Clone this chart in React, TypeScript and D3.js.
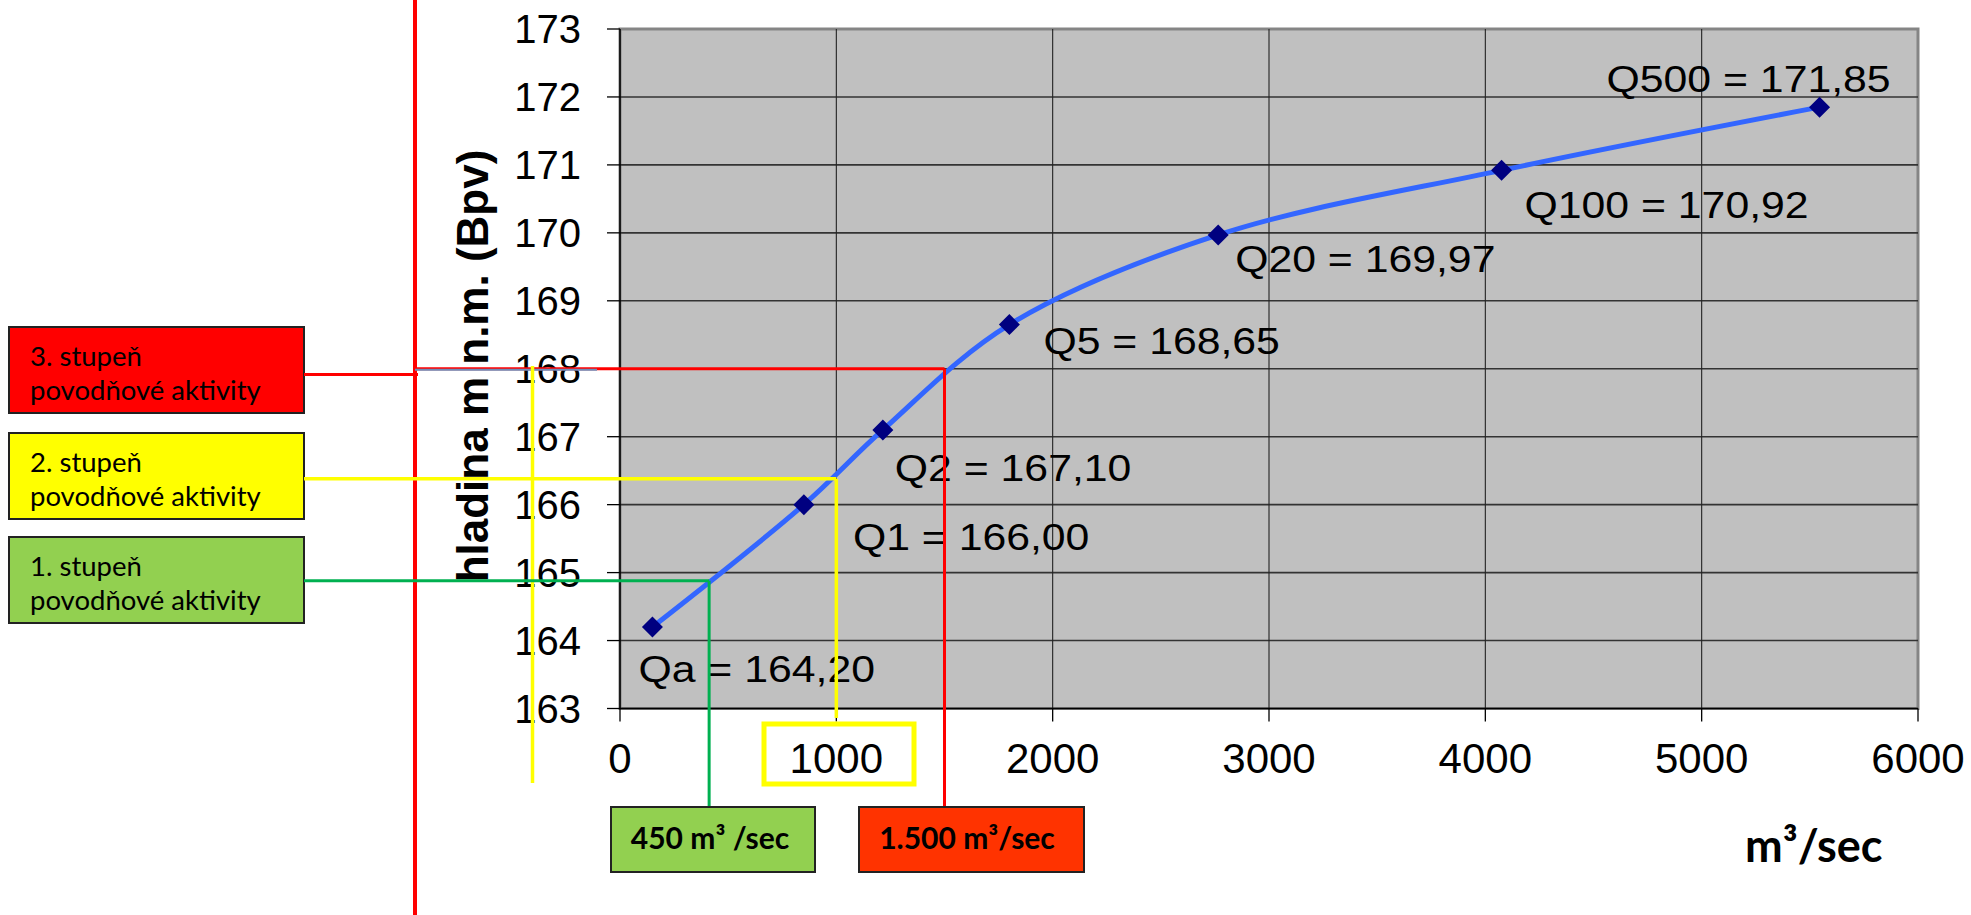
import React from "react";
import * as d3 from "d3";

// ---- data ----
const pointNames = ["Qa", "Q1", "Q2", "Q5", "Q20", "Q100", "Q500"];
const flows = [150, 850, 1215, 1800, 2765, 4075, 5545];
const levels = [164.2, 166.0, 167.1, 168.65, 169.97, 170.92, 171.85];
const xTicks = [0, 1000, 2000, 3000, 4000, 5000, 6000];
const yTicks = [163, 164, 165, 166, 167, 168, 169, 170, 171, 172, 173];

const stageNames = ["3. stupeň", "2. stupeň", "1. stupeň"];
const stageSub = "povodňové aktivity";
const stageLevels = [168.0, 166.38, 164.88];
const stageFlows = [1500, 1000, 412];
const flowBoxTexts = ["1.500 m³/sec", "450 m³ /sec"];

// ---- layout / style ----
const W = 1971;
const H = 915;
const plot = { left: 620, right: 1918, top: 29, bottom: 708.5 };
const labelOffsets: [number, number][] = [
  [-14, 55],
  [49, 45],
  [12, 51],
  [34, 29],
  [17, 37],
  [23, 48],
  [-213, -15],
];

const fmt = (v: number) => v.toFixed(2).replace(".", ",");

export default function App() {
  const x = d3.scaleLinear().domain([0, 6000]).range([plot.left, plot.right]);
  const y = d3.scaleLinear().domain([163, 173]).range([plot.bottom, plot.top]);

  const pts: [number, number][] = flows.map((f, i) => [x(f), y(levels[i])]);
  const line = d3.line().curve(d3.curveCatmullRom.alpha(0.5))(pts) || "";

  const arial = "'Liberation Sans', Arial, sans-serif";
  const cal = "Lato, 'Open Sans', sans-serif";

  const boxX = 9;
  const boxW = 295;
  const boxTops = [327, 433, 537];
  const boxH = 86;
  const boxFills = ["#FF0000", "#FFFF00", "#92D050"];
  const lineCols = ["#FF0000", "#FFFF00", "#00B050"];

  const redVX = 415;
  const mk = 10.5;

  return (
    <svg
      width={W}
      height={H}
      style={{ position: "fixed", left: 0, top: 0, display: "block", background: "#fff" }}
    >
      {/* plot area */}
      <rect
        x={plot.left}
        y={plot.top}
        width={plot.right - plot.left}
        height={plot.bottom - plot.top}
        fill="#C0C0C0"
        stroke="#858585"
        strokeWidth={3}
      />
      {/* grid */}
      {yTicks.slice(1, -1).map((t) => (
        <line key={"gy" + t} x1={plot.left} x2={plot.right} y1={y(t)} y2={y(t)} stroke="#333" strokeWidth={1.6} />
      ))}
      {xTicks.slice(1, -1).map((t) => (
        <line key={"gx" + t} x1={x(t)} x2={x(t)} y1={plot.top} y2={plot.bottom} stroke="#222" strokeWidth={1.1} />
      ))}
      {/* axes */}
      <line x1={plot.left} x2={plot.left} y1={plot.top} y2={plot.bottom} stroke="#000" strokeWidth={1.6} />
      <line x1={plot.left} x2={plot.right} y1={plot.bottom} y2={plot.bottom} stroke="#000" strokeWidth={1.6} />
      {yTicks.map((t) => (
        <g key={"ty" + t}>
          <line x1={plot.left - 13} x2={plot.left} y1={y(t)} y2={y(t)} stroke="#000" strokeWidth={1.3} />
          <text x={581} y={y(t) + 14} textAnchor="end" fontFamily={arial} fontSize={40} fill="#000">
            {t}
          </text>
        </g>
      ))}
      {xTicks.map((t) => (
        <g key={"tx" + t}>
          <line x1={x(t)} x2={x(t)} y1={plot.bottom} y2={plot.bottom + 13} stroke="#000" strokeWidth={1.3} />
          <text x={x(t)} y={773} textAnchor="middle" fontFamily={arial} fontSize={42} fill="#000">
            {t}
          </text>
        </g>
      ))}

      {/* axis titles */}
      <text
        transform={`translate(488,366) rotate(-90)`}
        textAnchor="middle"
        fontFamily={arial}
        fontWeight="bold"
        fontSize={44}
        fill="#000"
      >
        hladina m n.m. (Bpv)
      </text>
      <text x={1745} y={862} fontFamily={cal} fontWeight="bold" fontSize={45} fill="#000">
        m³/sec
      </text>

      {/* rating curve */}
      <path d={line} fill="none" stroke="#3366FF" strokeWidth={5} />
      {pts.map(([px, py], i) => (
        <path
          key={"m" + i}
          d={`M${px},${py - mk}L${px + mk},${py}L${px},${py + mk}L${px - mk},${py}Z`}
          fill="#000080"
        />
      ))}
      {pts.map(([px, py], i) => (
        <text
          key={"l" + i}
          transform={`translate(${px + labelOffsets[i][0]},${py + labelOffsets[i][1]}) scale(1.14,1)`}
          fontFamily={arial}
          fontSize={37.5}
          fill="#000"
        >
          {pointNames[i]} = {fmt(levels[i])}
        </text>
      ))}

      {/* left stage boxes */}
      {stageNames.map((s, i) => (
        <g key={"sb" + i}>
          <rect x={boxX} y={boxTops[i]} width={boxW} height={boxH} fill={boxFills[i]} stroke="#222" strokeWidth={2} />
          <text x={30} y={boxTops[i] + 39} fontFamily={cal} fontSize={27.5} fill="#000">
            {s}
          </text>
          <text x={30} y={boxTops[i] + 73} fontFamily={cal} fontSize={27.5} fill="#000">
            {stageSub}
          </text>
        </g>
      ))}

      {/* stage 3 (red) */}
      <line x1={redVX} x2={redVX} y1={0} y2={H} stroke="#FF0000" strokeWidth={4} />
      <line x1={boxX + boxW} x2={redVX + 3} y1={374.5} y2={374.5} stroke="#FF0000" strokeWidth={3} />
      <line x1={redVX} x2={x(stageFlows[0])} y1={y(stageLevels[0])} y2={y(stageLevels[0])} stroke="#FF0000" strokeWidth={3} />
      <line x1={redVX} x2={597} y1={y(stageLevels[0]) + 1} y2={y(stageLevels[0]) + 1} stroke="#6F8DB8" strokeWidth={2} />
      <line x1={x(stageFlows[0])} x2={x(stageFlows[0])} y1={y(stageLevels[0])} y2={807} stroke="#FF0000" strokeWidth={3} />

      {/* stage 2 (yellow) */}
      <line x1={boxX + boxW} x2={x(stageFlows[1])} y1={y(stageLevels[1])} y2={y(stageLevels[1])} stroke={lineCols[1]} strokeWidth={3.5} />
      <line x1={x(stageFlows[1])} x2={x(stageFlows[1])} y1={y(stageLevels[1])} y2={718} stroke={lineCols[1]} strokeWidth={3.5} />
      <line x1={532.5} x2={532.5} y1={366} y2={783} stroke={lineCols[1]} strokeWidth={3.5} />
      <rect x={764} y={724} width={150} height={60} fill="none" stroke="#FFFF00" strokeWidth={5} />

      {/* stage 1 (green) */}
      <line x1={boxX + boxW} x2={x(stageFlows[2])} y1={y(stageLevels[2])} y2={y(stageLevels[2])} stroke={lineCols[2]} strokeWidth={3} />
      <line x1={x(stageFlows[2])} x2={x(stageFlows[2])} y1={y(stageLevels[2])} y2={807} stroke={lineCols[2]} strokeWidth={3} />

      {/* flow boxes */}
      <rect x={611} y={807} width={204} height={65} fill="#92D050" stroke="#222" strokeWidth={2} />
      <text x={710} y={849} textAnchor="middle" fontFamily={cal} fontWeight="bold" fontSize={30} fill="#000">
        {flowBoxTexts[1]}
      </text>
      <rect x={859} y={807} width={225} height={65} fill="#FF3300" stroke="#222" strokeWidth={2} />
      <text x={967} y={849} textAnchor="middle" fontFamily={cal} fontWeight="bold" fontSize={30} fill="#000">
        {flowBoxTexts[0]}
      </text>
    </svg>
  );
}
